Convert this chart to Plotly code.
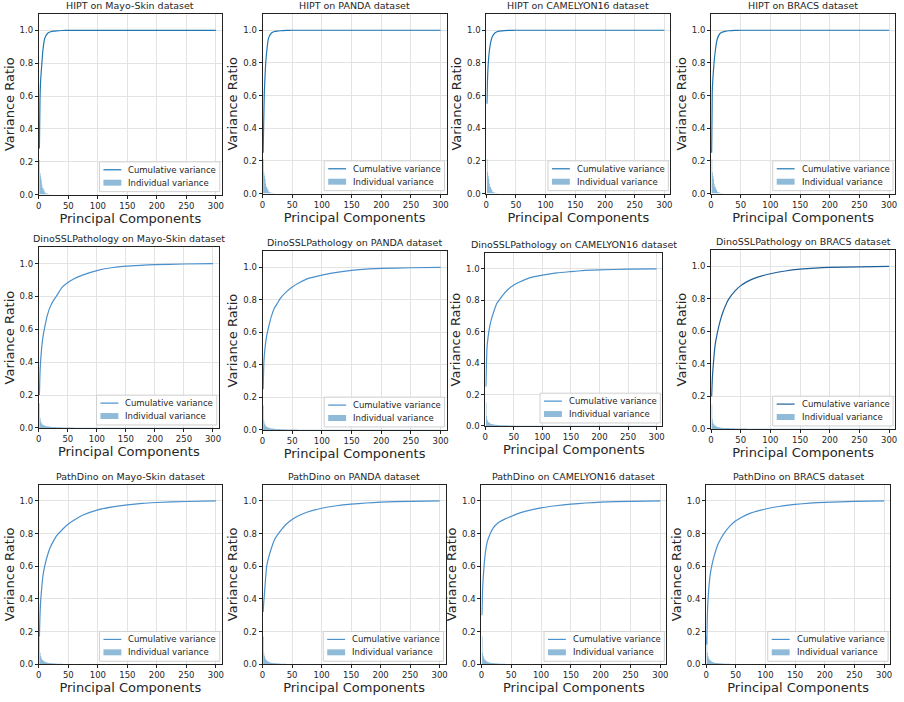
import plotly.graph_objects as go
from plotly.subplots import make_subplots

# titles of the 12 panels (row by row)
MODELS = ["HIPT", "DinoSSLPathology", "PathDino"]
DATASETS = ["Mayo-Skin", "PANDA", "CAMELYON16", "BRACS"]
LEGEND_LABELS = ["Cumulative variance", "Individual variance"]

# component indices where the cumulative curve was read
COMPS = [1, 2, 3, 5, 7, 10, 15, 20, 25, 30, 40, 50, 60, 75, 100, 125, 150, 175, 200, 250, 300]

hipt_mayo_cum = [0.28, 0.58, 0.69, 0.79, 0.88, 0.95, 0.982, 0.991, 0.995, 0.997, 0.999, 1.0, 1.0, 1.0, 1.0, 1.0, 1.0, 1.0, 1.0, 1.0, 1.0]
hipt_panda_cum = [0.25, 0.45, 0.62, 0.78, 0.87, 0.95, 0.983, 0.992, 0.995, 0.997, 0.999, 1.0, 1.0, 1.0, 1.0, 1.0, 1.0, 1.0, 1.0, 1.0, 1.0]
hipt_camelyon_cum = [0.55, 0.70, 0.78, 0.87, 0.92, 0.96, 0.985, 0.993, 0.996, 0.998, 0.999, 1.0, 1.0, 1.0, 1.0, 1.0, 1.0, 1.0, 1.0, 1.0, 1.0]
hipt_bracs_cum = [0.25, 0.62, 0.70, 0.80, 0.87, 0.94, 0.98, 0.99, 0.995, 0.997, 0.999, 1.0, 1.0, 1.0, 1.0, 1.0, 1.0, 1.0, 1.0, 1.0, 1.0]

dino_mayo_cum = [0.20, 0.33, 0.40, 0.49, 0.55, 0.61, 0.69, 0.74, 0.775, 0.80, 0.855, 0.885, 0.907, 0.93, 0.958, 0.975, 0.985, 0.99, 0.994, 0.998, 1.0]
dino_panda_cum = [0.25, 0.40, 0.46, 0.53, 0.58, 0.63, 0.70, 0.75, 0.78, 0.81, 0.85, 0.88, 0.903, 0.93, 0.953, 0.97, 0.982, 0.99, 0.994, 0.998, 1.0]
dino_camelyon_cum = [0.25, 0.40, 0.50, 0.57, 0.62, 0.67, 0.73, 0.78, 0.805, 0.83, 0.87, 0.897, 0.917, 0.94, 0.96, 0.975, 0.983, 0.99, 0.994, 0.998, 1.0]
dino_bracs_cum = [0.20, 0.30, 0.36, 0.45, 0.52, 0.58, 0.66, 0.72, 0.765, 0.80, 0.848, 0.882, 0.905, 0.93, 0.955, 0.972, 0.983, 0.99, 0.994, 0.998, 1.0]

pathdino_mayo_cum = [0.17, 0.30, 0.38, 0.47, 0.54, 0.60, 0.67, 0.72, 0.755, 0.785, 0.825, 0.858, 0.883, 0.913, 0.945, 0.963, 0.976, 0.985, 0.99, 0.996, 1.0]
pathdino_panda_cum = [0.32, 0.38, 0.42, 0.52, 0.60, 0.65, 0.71, 0.76, 0.79, 0.815, 0.857, 0.886, 0.907, 0.93, 0.955, 0.97, 0.98, 0.987, 0.992, 0.997, 1.0]
pathdino_camelyon_cum = [0.30, 0.45, 0.52, 0.62, 0.69, 0.75, 0.80, 0.835, 0.855, 0.87, 0.89, 0.905, 0.92, 0.937, 0.957, 0.97, 0.98, 0.987, 0.992, 0.997, 1.0]
pathdino_bracs_cum = [0.12, 0.28, 0.38, 0.48, 0.55, 0.61, 0.68, 0.735, 0.77, 0.80, 0.845, 0.878, 0.90, 0.925, 0.95, 0.967, 0.978, 0.986, 0.991, 0.997, 1.0]

# component indices where the individual bars were read
INDIV_COMPS = [1, 2, 3, 4, 5, 6, 8, 10, 12, 15, 20, 25, 30, 40, 50, 60, 300]

hipt_indiv = [0.21, 0.13, 0.11, 0.09, 0.06, 0.04, 0.025, 0.012, 0.007, 0.004, 0.001, 0.0, 0.0, 0.0, 0.0, 0.0, 0.0]
dino_indiv = [0.15, 0.06, 0.04, 0.03, 0.025, 0.02, 0.016, 0.012, 0.010, 0.008, 0.006, 0.005, 0.004, 0.003, 0.002, 0.001, 0.0]
pathdino_indiv = [0.17, 0.07, 0.05, 0.04, 0.03, 0.025, 0.018, 0.013, 0.010, 0.008, 0.006, 0.004, 0.003, 0.002, 0.001, 0.0005, 0.0]

CUMS = [
    [hipt_mayo_cum, hipt_panda_cum, hipt_camelyon_cum, hipt_bracs_cum],
    [dino_mayo_cum, dino_panda_cum, dino_camelyon_cum, dino_bracs_cum],
    [pathdino_mayo_cum, pathdino_panda_cum, pathdino_camelyon_cum, pathdino_bracs_cum],
]
INDIVS = [hipt_indiv, dino_indiv, pathdino_indiv]

W, H = 904, 702
# panel boxes in pixels: left, right, top, bottom
BOXES = [
    [(36, 220, 14, 196), (261, 446, 14, 195), (486, 671, 14, 195), (712, 897, 14, 195)],
    [(36, 217, 249, 431), (261, 446, 253, 433), (485, 663, 255, 429), (712, 897, 252, 432)],
    [(36, 220, 488, 669), (261, 445, 488, 669), (481, 667, 488, 669), (707, 892, 488, 669)],
]
LINE_COLORS = [
    ["#1f77b4"] * 4,
    ["#4a90cc", "#4a90cc", "#4a90cc", "#1f5f99"],
    ["#4a90cc"] * 4,
]
BAR_COLOR = "rgba(31,119,180,0.5)"
FONT = "DejaVu Sans"
TXT = "#262626"


def px(x, y):
    return x / W, 1 - y / H


fig = make_subplots(rows=3, cols=4)
shapes = []

for r in range(3):
    for c in range(4):
        k = r * 4 + c + 1
        fig.add_trace(go.Scatter(
            x=COMPS, y=CUMS[r][c], mode="lines", name=LEGEND_LABELS[0],
            line=dict(color=LINE_COLORS[r][c], width=1.2, shape="spline", smoothing=0.5),
            showlegend=False), row=r + 1, col=c + 1)
        fig.add_trace(go.Scatter(
            x=INDIV_COMPS, y=INDIVS[r], mode="lines", name=LEGEND_LABELS[1],
            line=dict(width=0, shape="hv"), fill="tozeroy",
            fillcolor=BAR_COLOR, showlegend=False), row=r + 1, col=c + 1)

        left, right, top, bottom = BOXES[r][c]
        xa = "xaxis" if k == 1 else f"xaxis{k}"
        ya = "yaxis" if k == 1 else f"yaxis{k}"
        fig.layout[xa].update(domain=[left / W, right / W])
        fig.layout[ya].update(domain=[1 - bottom / H, 1 - top / H])

        fig.add_annotation(
            text=f"{MODELS[r]} on {DATASETS[c]} dataset", xref="paper", yref="paper",
            x=(left + right) / 2 / W, y=1 - (top - 1) / H, xanchor="center", yanchor="bottom",
            showarrow=False, font=dict(family=FONT, size=9.5, color=TXT))

        # matplotlib-like legend box in the lower right corner
        bx1, by1 = right - 2, bottom - 3
        bx0, by0 = bx1 - 121, by1 - 30
        x0, y0 = px(bx0, by0)
        x1, y1 = px(bx1, by1)
        shapes.append(dict(type="rect", xref="paper", yref="paper", x0=x0, x1=x1, y0=y1, y1=y0,
                           line=dict(color="#d0d0d0", width=1), fillcolor="rgba(255,255,255,0.85)"))
        lx0, ly = px(bx0 + 4, by0 + 8)
        lx1, _ = px(bx0 + 22, by0 + 8)
        shapes.append(dict(type="line", xref="paper", yref="paper", x0=lx0, x1=lx1, y0=ly, y1=ly,
                           line=dict(color=LINE_COLORS[r][c], width=1.2)))
        fx0, fy0 = px(bx0 + 4, by0 + 18)
        fx1, fy1 = px(bx0 + 22, by0 + 24)
        shapes.append(dict(type="rect", xref="paper", yref="paper", x0=fx0, x1=fx1, y0=fy1, y1=fy0,
                           line=dict(width=0), fillcolor=BAR_COLOR))
        for i, lab in enumerate(LEGEND_LABELS):
            tx, ty = px(bx0 + 27, by0 + 8 + 13 * i)
            fig.add_annotation(text=lab, xref="paper", yref="paper", x=tx, y=ty,
                               xanchor="left", yanchor="middle", showarrow=False,
                               font=dict(family=FONT, size=8.5, color=TXT))

fig.update_xaxes(
    range=[0, 310], tickvals=[0, 50, 100, 150, 200, 250, 300],
    showgrid=True, gridcolor="#e3e3e3", gridwidth=0.8, zeroline=False,
    showline=True, linecolor="#222", linewidth=1, mirror=True,
    ticks="outside", ticklen=3, tickcolor="#222",
    tickfont=dict(family=FONT, size=8.5, color=TXT),
    title=dict(text="Principal Components", standoff=2, font=dict(family=FONT, size=13, color=TXT)))
fig.update_yaxes(
    range=[0, 1.1], tickvals=[0, 0.2, 0.4, 0.6, 0.8, 1.0], tickformat=".1f",
    showgrid=True, gridcolor="#e3e3e3", gridwidth=0.8, zeroline=False,
    showline=True, linecolor="#222", linewidth=1, mirror=True,
    ticks="outside", ticklen=3, tickcolor="#222",
    tickfont=dict(family=FONT, size=8.5, color=TXT),
    title=dict(text="Variance Ratio", standoff=2, font=dict(family=FONT, size=13, color=TXT)))

fig.update_layout(
    width=W, height=H, margin=dict(l=0, r=0, t=0, b=0), shapes=shapes,
    paper_bgcolor="white", plot_bgcolor="white", showlegend=False)

fig.write_html("out.html", config={"displayModeBar": False},
               post_script="document.body.style.margin='0px';")
